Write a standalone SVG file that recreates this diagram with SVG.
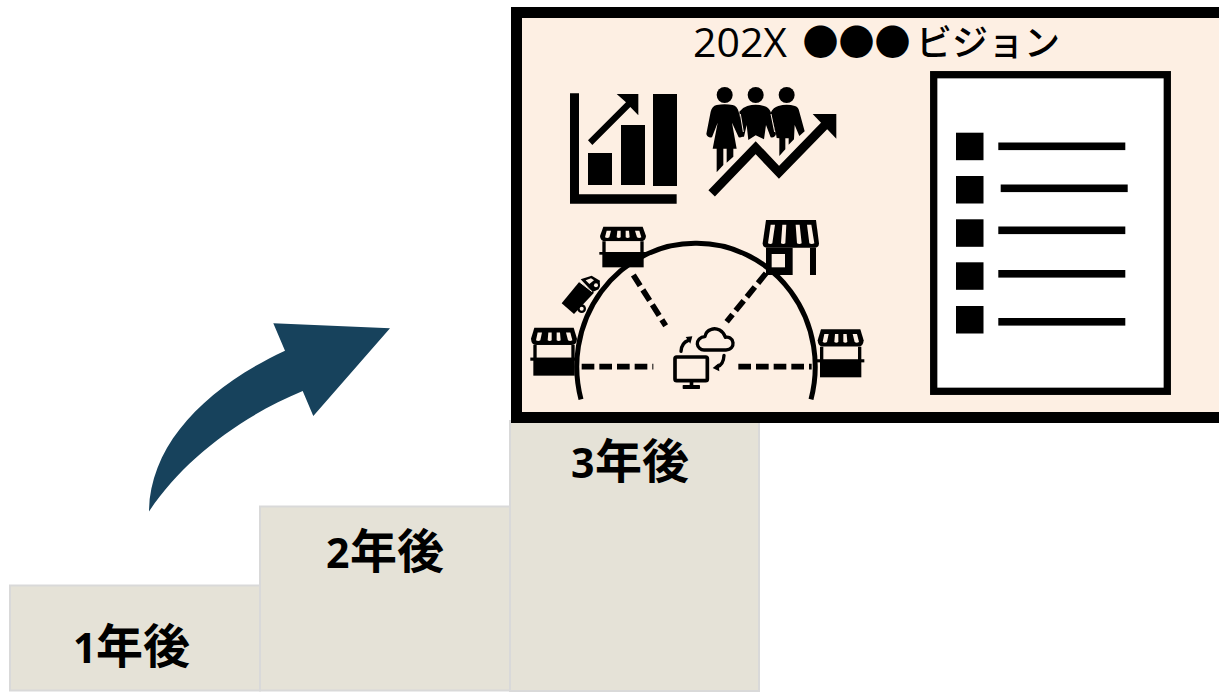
<svg xmlns="http://www.w3.org/2000/svg" width="1219" height="692" viewBox="0 0 1219 692">
<style>
.step{fill:#e5e2d7;stroke:#d9d9d9;stroke-width:2}
.lbl{font-family:"Open Sans","Noto Sans CJK JP",sans-serif;font-weight:700;font-size:41px;fill:#000}
.cjk{font-family:"Noto Sans CJK JP",sans-serif;font-weight:700;font-size:47px}
.t{font-family:"Open Sans","Noto Sans CJK JP",sans-serif;font-size:41px;fill:#000}
.tj{font-family:"Noto Sans CJK JP",sans-serif;font-size:36px;font-weight:500}
.k{fill:#000}
.bg{fill:#fdefe3}
.ln{fill:none;stroke:#000;stroke-width:15}
.dash{fill:none;stroke:#000;stroke-width:17;stroke-dasharray:38 15}
.thin{fill:none;stroke:#000;stroke-width:10;stroke-linecap:round;stroke-linejoin:round}
</style>
<defs>
<g id="stall">
<path class="k" d="M10 0H128L138 28Q137 44 122 44H16Q1 44 0 28Z"/>
<path class="bg" d="M20 12H33L28 32Q22 36 15 32ZM52 12H62L62 32Q56 36 50 32ZM77 12H87L89 32Q83 36 77 32ZM105 12H118L124 32Q117 36 111 32Z"/>
<rect class="bg" x="14" y="44" width="110" height="34"/>
<path class="k" d="M7 44H17V80H7ZM121 44H131V80H121Z"/>
<rect class="k" x="7" y="78" width="124" height="44"/>
<rect class="k" x="-2" y="76" width="142" height="8"/>
</g>
</defs>

<g id="step-1"><rect class="step" x="10" y="585.500" width="250" height="105"/>
<text class="lbl" x="73" y="663">1<tspan class="cjk" x="96">年後</tspan></text></g>
<g id="step-2"><rect class="step" x="260" y="506.500" width="250" height="184"/>
<text class="lbl" x="326" y="568">2<tspan class="cjk" x="350">年後</tspan></text></g>
<g id="step-3"><rect class="step" x="510" y="421" width="249" height="270"/>
<text class="lbl" x="571" y="478">3<tspan class="cjk" x="595">年後</tspan></text></g>

<path id="growth-arrow" fill="#17425c" d="M149 511.500C150 443 207 387 285 350.700L273.300 323.300L390 328.300L313.300 416L302.700 391C240 417 183 460 149 511.500Z"/>

<g id="vision-frame">
<rect x="516.500" y="12.500" width="730" height="405" fill="#fdefe3" stroke="#000" stroke-width="11"/>
<text class="t" x="693" y="57">202X<tspan class="tj" x="802.500" y="56">●●●</tspan><tspan class="tj" x="916" y="56">ビジョン</tspan></text>
</g>

<g id="chart-icon" transform="translate(520 10) scale(.33333)">
<path class="k" d="M150 250H177V553H470V581H150Z"/>
<rect class="k" x="204" y="429" width="72" height="96"/>
<rect class="k" x="303" y="345" width="72" height="180"/>
<rect class="k" x="399" y="252" width="72" height="276"/>
<path class="k" d="M204 391L318 277L290 252H355V316L331 291L217 405Z"/>
</g>

<g id="people-icon" transform="translate(520 10) scale(.33333)">
<circle class="k" cx="614" cy="255" r="24"/><circle class="k" cx="707" cy="255" r="24"/><circle class="k" cx="800" cy="255" r="24"/>
<path class="k" d="M590 285Q614 280 638 285Q652 288 656 305L672 372Q668 384 656 382L636 338L650 416H640V440L620 458V416H610V465L590 487V416H578L593 338L576 382Q562 384 559 372L572 305Q576 288 590 285Z"/>
<path class="k" d="M682 288Q707 280 732 288Q746 292 752 305L768 372Q765 384 752 382L738 345L732 388L707 376L685 390L680 345L672 380L664 380L658 305Q668 292 682 288Z"/>
<path class="k" d="M775 288Q800 280 825 288Q836 292 838 305L854 364L838 378L824 345L822 388L806 404V385H796V418L778 438V385L770 384L768 372L752 308Q760 292 775 288Z"/>
<path d="M661 312L670 366M753 312L764 366" fill="none" stroke="#fdefe3" stroke-width="3"/>
<path d="M575 550L707 410L777 490L925 335" fill="none" stroke="#fdefe3" stroke-width="36"/>
<path d="M575 550L707 413L777 487L925 335" fill="none" stroke="#000" stroke-width="27"/>
<path class="k" d="M878 312H949V386Z"/>
</g>

<g id="network-icon" transform="translate(520 210) scale(.33333)">
<path class="ln" d="M183 568A355 370 0 0 1 528 100A355 370 0 0 1 873 568"/>
<path class="dash" d="M185 470H400"/>
<path class="dash" d="M655 470H875"/>
<path class="dash" d="M340 195L437 347"/>
<path class="dash" d="M738 190L620 335"/>
<use href="#stall" transform="translate(240 50)"/>
<use href="#stall" transform="translate(33 353) scale(1 1.18)"/>
<use href="#stall" transform="translate(893 358) scale(1 1.18)"/>
<g id="store-large">
<rect class="bg" x="745" y="110" width="135" height="85"/>
<path class="k" d="M738 30H888L897 100Q897 113 885 113H740Q728 113 728 100Z"/>
<path class="bg" d="M752 44H765L757 100Q752 104 744 100ZM787 44H799L796 100Q790 104 783 100ZM827 44H839L845 100Q838 104 831 100ZM861 44H874L883 100Q875 104 868 100Z"/>
<path class="k" d="M738 113H818V195H738ZM870 113H888V195H870Z"/>
<rect class="bg" x="755" y="132" width="40" height="40"/>
</g>
<g id="truck">
<path class="k" d="M125 280L178 215L222 248L162 312Z"/>
<path class="k" d="M182 208L215 197L240 212L236 238L218 246Z"/>
<path class="bg" d="M197 211L213 205L222 211L208 222Z"/>
<path d="M176 214L216 245" stroke="#fdefe3" stroke-width="3" fill="none"/>
<circle class="k" cx="228" cy="226" r="12"/><circle class="bg" cx="228" cy="226" r="6"/>
<circle class="k" cx="185" cy="296" r="13"/><circle class="bg" cx="185" cy="296" r="6"/>
</g>
<g id="cloud-pc">
<rect x="465" y="441" width="97" height="71" rx="5" fill="none" stroke="#000" stroke-width="11"/>
<rect class="k" x="509" y="512" width="11" height="16"/>
<rect class="k" x="488" y="525" width="52" height="12" rx="2"/>
<path class="thin" d="M552 420H618C634 420 640 408 639 398C637 384 625 380 616 382C610 362 590 352 574 358C562 362 556 372 555 380C540 380 531 392 532 402C533 412 542 420 552 420Z"/>
<path class="thin" d="M483 424C484 405 494 395 505 391"/>
<path class="k" d="M497 381L517 379L511 401Z"/>
<path class="thin" d="M612 436C611 456 604 466 592 470"/>
<path class="k" d="M596 460L578 474L598 484Z"/>
</g>
</g>

<g id="doc-list">
<rect x="933.700" y="74.700" width="233.600" height="316.600" fill="#fff" stroke="#000" stroke-width="7.300"/>
<g class="k">
<rect x="956" y="132.700" width="27.500" height="27.500"/><rect x="956" y="176" width="27.500" height="27.500"/><rect x="956" y="219.300" width="27.500" height="27.500"/><rect x="956" y="262.300" width="27.500" height="27.500"/><rect x="956" y="306" width="27.500" height="27.500"/>
<rect x="998.300" y="142.500" width="127" height="7.600"/><rect x="1000.700" y="184.500" width="127" height="7.600"/><rect x="998.300" y="226.500" width="127" height="7.600"/><rect x="998.300" y="270" width="127" height="7.600"/><rect x="998.300" y="318" width="127" height="7.600"/>
</g>
</g>
</svg>
